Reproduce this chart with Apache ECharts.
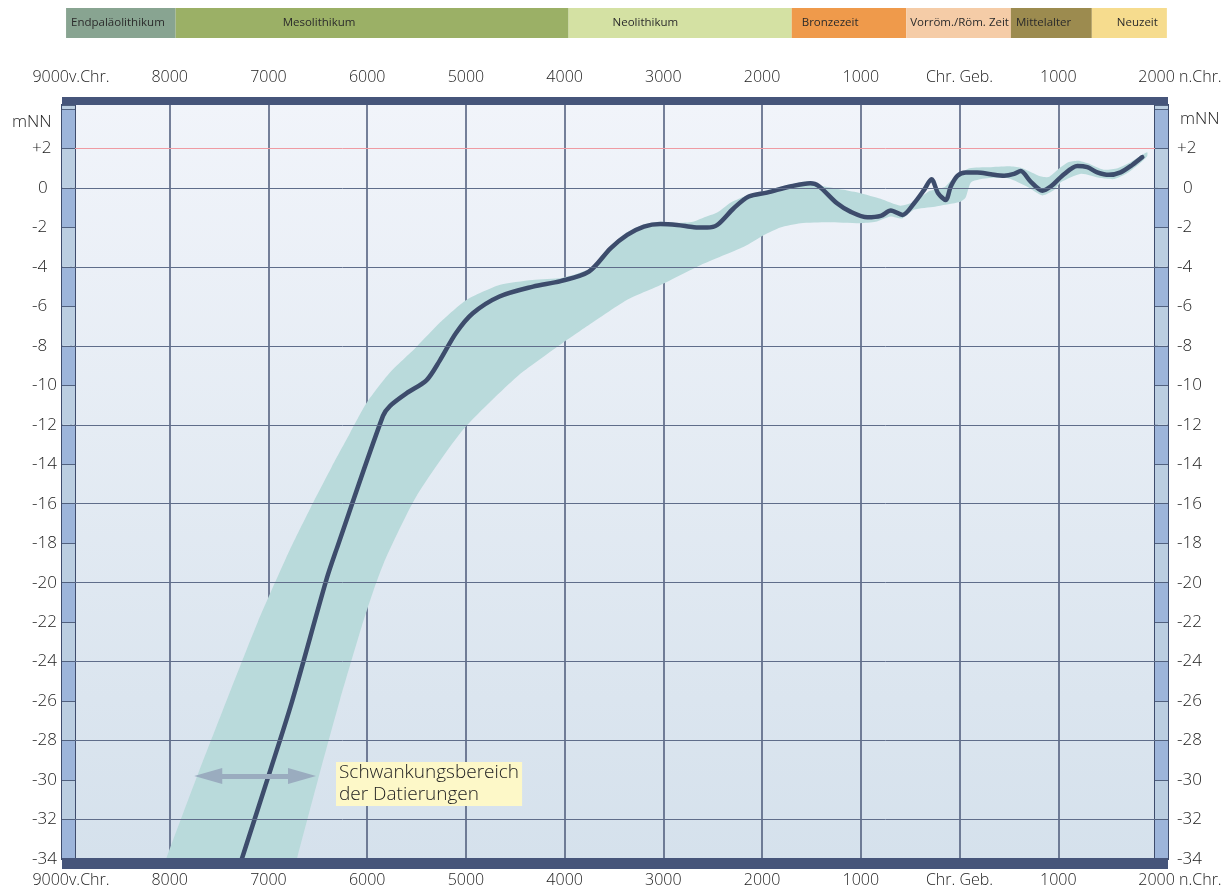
<!DOCTYPE html>
<html>
<head>
<meta charset="utf-8">
<title>Meeresspiegelanstieg</title>
<script src="https://cdn.jsdelivr.net/npm/echarts@6/dist/echarts.min.js"></script>
<style>
  html, body { margin: 0; padding: 0; background: #fff; }
  #chart { width: 1230px; height: 890px; }
</style>
</head>
<body>
<div id="chart"></div>
<script>
// Jahre: negativ = v.Chr., positiv = n.Chr.; Höhen in mNN
const curveYears = [-7270, -7000, -6760, -6410, -6310, -5840, -5770, -5600, -5400, -5265, -5100, -4930, -4660, -4320, -4040, -3754, -3535, -3366, -3197, -3029, -2860, -2691, -2556, -2455, -2287, -2135, -1950, -1714, -1511, -1427, -1241, -1106, -933, -798, -696, -578, -460, -359, -285, -217, -140, -89, -22, 63, 181, 316, 451, 552, 619, 720, 839, 923, 1058, 1193, 1294, 1395, 1513, 1631, 1749, 1851]
const curveLevels = [-34, -29.8, -26, -19.8, -18.3, -11.55, -11.05, -10.4, -9.75, -8.75, -7.35, -6.35, -5.5, -5.0, -4.72, -4.24, -3.06, -2.38, -1.96, -1.83, -1.88, -1.99, -2.01, -1.88, -1.03, -0.44, -0.24, 0.07, 0.24, 0.10, -0.78, -1.2, -1.49, -1.42, -1.15, -1.37, -0.78, -0.10, 0.44, -0.27, -0.61, 0.07, 0.61, 0.78, 0.78, 0.69, 0.62, 0.71, 0.86, 0.32, -0.14, 0.07, 0.69, 1.11, 1.05, 0.79, 0.66, 0.79, 1.16, 1.56]

// Schwankungsbereich: Ober- und Unterkante (Werte unter -34 liegen unter dem Rahmen)
const bandTopYears = [-8200, -8051, -7737, -7423, -7109, -6786, -6573, -6361, -6179, -6007, -5774, -5501, -5258, -4995, -4661, -4327, -4020, -3750, -3540, -3370, -3200, -3030, -2860, -2700, -2590, -2455, -2320, -2135, -1950, -1714, -1511, -1430, -1174, -1005, -800, -600, -460, -300, -150, -50, 100, 300, 500, 620, 700, 800, 900, 1000, 1100, 1200, 1300, 1460, 1600, 1740, 1900]
const bandTopLevels = [-36.4, -34.2, -30.0, -25.96, -22.0, -18.36, -16.2, -14.15, -12.47, -10.9, -9.38, -8.06, -6.8, -5.68, -4.92, -4.67, -4.55, -4.1, -2.95, -2.25, -1.85, -1.72, -1.78, -1.72, -1.5, -1.25, -0.75, -0.35, -0.12, 0.18, 0.35, 0.15, -0.1, -0.27, -0.55, -0.9, -0.7, -0.15, 0.05, 0.55, 1.0, 1.05, 1.1, 1.02, 0.85, 0.62, 0.55, 0.95, 1.3, 1.38, 1.25, 0.92, 1.0, 1.33, 1.8]
const bandLowYears = [-6831, -6722, -6499, -6277, -6054, -5936, -5815, -5507, -5032, -4486, -4021, -3800, -3370, -3030, -2620, -2185, -1980, -1815, -1610, -1340, -1005, -850, -700, -580, -460, -250, 0, 60, 120, 300, 500, 690, 840, 960, 1030, 1230, 1430, 1570, 1700, 1840, 1900]
const bandLowLevels = [-36.4, -34.2, -30.0, -25.96, -22.2, -20.4, -18.8, -15.67, -12.27, -9.58, -7.86, -7.1, -5.68, -4.92, -3.9, -2.98, -2.38, -2.0, -1.79, -1.74, -1.79, -1.72, -1.45, -1.55, -1.1, -0.95, -0.72, -0.5, 0.3, 0.5, 0.48, 0.05, -0.38, -0.1, 0.3, 0.72, 0.5, 0.45, 0.75, 1.3, 1.6]

// Kulturepochen
const periodNames = ['Endpaläolithikum', 'Mesolithikum', 'Neolithikum', 'Bronzezeit', 'Vorröm./Röm. Zeit', 'Mittelalter', 'Neuzeit']
const periodStart = [-9050, -7940, -3960, -1700, -540, 520, 1340]
const periodEnd = [-7940, -3960, -1700, -540, 520, 1340, 2100]

const gridLevels = [0, -4, -8, -12, -16, -20, -24, -28, -32]
const refLevels = [2]
const arrowYears = [-7610, -6660]
const arrowLevel = -29.8

// Stil
const FONT = '"Open Sans", sans-serif'
const periodColors = ['#88a491', '#9bb066', '#d4e1a3', '#ef9a4b', '#f5cca7', '#9c8b4f', '#f6dc8e']
const periodTextInset = [5, 107, 44, 10, 4, 5, 25]
const sideBarColors = ['#9db5da', '#bbcee1']

const bandPoly = bandTopYears.map((y, i) => [y, bandTopLevels[i]])
  .concat(bandLowYears.map((y, i) => [y, bandLowLevels[i]]).reverse())

function yearLabel (v) {
  if (v === -9000) return '9000v.Chr.'
  if (v === 2000) return '{pad|}2000 n.Chr.'
  if (v === 0) return 'Chr. Geb.'
  return String(Math.abs(v))
}

function levelLabel (v) {
  if (v > 3) return ''
  if (v === 2) return '+2'
  if (v === 0) return '{z|0}'
  return String(v)
}

const xLabel = {
  fontSize: 16,
  fontWeight: 300,
  color: '#222',
  formatter: yearLabel,
  rich: { pad: { width: 46 } }
}
const yLabel = {
  fontSize: 17,
  fontWeight: 300,
  color: '#222',
  align: 'left',
  formatter: levelLabel,
  rich: { z: { fontSize: 17, fontWeight: 300, color: '#222', padding: [0, 0, 0, 6] } }
}

const chart = echarts.init(document.getElementById('chart'))

const option = {
  animation: false,
  textStyle: { fontFamily: FONT },
  grid: [
    {
      left: 71, right: 73, top: 105, bottom: 31,
      show: true,
      borderWidth: 0,
      backgroundColor: {
        type: 'linear', x: 0, y: 0, x2: 0, y2: 1,
        colorStops: [
          { offset: 0, color: '#f1f4fa' },
          { offset: 1, color: '#d5e1ec' }
        ]
      }
    },
    { left: 62, width: 13, top: 105, bottom: 31, show: true, borderColor: '#3e4c6c', borderWidth: 2 },
    { left: 1155, width: 13, top: 105, bottom: 31, show: true, borderColor: '#3e4c6c', borderWidth: 2 },
    { left: 71, right: 73, top: 8, height: 30 }
  ],
  xAxis: [
    {
      gridIndex: 0, type: 'value', position: 'bottom',
      min: -9000, max: 2000, interval: 1000,
      axisLine: { show: false }, axisTick: { show: false },
      axisLabel: Object.assign({ margin: 13, showMinLabel: true, showMaxLabel: true }, xLabel),
      splitLine: { show: true, lineStyle: { color: '#4b5979', width: 1.5 } }
    },
    {
      gridIndex: 0, type: 'value', position: 'top',
      min: -9000, max: 2000, interval: 1000,
      axisLine: { show: false }, axisTick: { show: false },
      axisLabel: Object.assign({ margin: 20, showMinLabel: true, showMaxLabel: true }, xLabel),
      splitLine: { show: false }
    },
    { gridIndex: 1, type: 'value', min: 0, max: 1, show: false },
    { gridIndex: 2, type: 'value', min: 0, max: 1, show: false },
    { gridIndex: 3, type: 'value', min: -9000, max: 2000, show: false }
  ],
  yAxis: [
    {
      gridIndex: 0, type: 'value', position: 'left',
      min: -34, max: 4.2, interval: 2,
      axisLine: { show: false }, axisTick: { show: false }, splitLine: { show: false },
      axisLabel: Object.assign({ margin: 39 }, yLabel)
    },
    {
      gridIndex: 0, type: 'value', position: 'right',
      min: -34, max: 4.2, interval: 2,
      axisLine: { show: false }, axisTick: { show: false }, splitLine: { show: false },
      axisLabel: Object.assign({ margin: 20 }, yLabel)
    },
    {
      gridIndex: 1, type: 'value', min: -34, max: 4.2, interval: 2, z: 6,
      axisLine: { show: false }, axisTick: { show: false }, axisLabel: { show: false },
      splitLine: { show: true, lineStyle: { color: '#51617f', width: 1 } },
      splitArea: { show: true, areaStyle: { color: sideBarColors } }
    },
    {
      gridIndex: 2, type: 'value', min: -34, max: 4.2, interval: 2, z: 6,
      axisLine: { show: false }, axisTick: { show: false }, axisLabel: { show: false },
      splitLine: { show: true, lineStyle: { color: '#51617f', width: 1 } },
      splitArea: { show: true, areaStyle: { color: sideBarColors } }
    },
    { gridIndex: 3, type: 'value', min: 0, max: 1, show: false }
  ],
  graphic: [
    { type: 'rect', left: 62, top: 97, z: 100, shape: { width: 1106, height: 8 }, style: { fill: '#46557a' } },
    { type: 'rect', left: 62, top: 858, z: 100, shape: { width: 1106, height: 11 }, style: { fill: '#46557a' } },
    { type: 'text', left: 12, top: 114, z: 100, style: { text: 'mNN', fontSize: 17, fontWeight: 300, fontFamily: FONT, fill: '#222' } },
    { type: 'text', left: 1180, top: 111, z: 100, style: { text: 'mNN', fontSize: 17, fontWeight: 300, fontFamily: FONT, fill: '#222' } },
    {
      type: 'text', left: 336, top: 762, z: 100,
      style: {
        text: 'Schwankungsbereich\nder Datierungen',
        fontSize: 19, fontWeight: 300, lineHeight: 22, fontFamily: FONT, fill: '#222',
        backgroundColor: '#fdf8c8', padding: [0, 3, 0, 3]
      }
    }
  ],
  series: [
    {
      // Gitterlinien der Höhen
      type: 'line', xAxisIndex: 0, yAxisIndex: 0, data: [], z: 1, silent: true,
      markLine: {
        silent: true, symbol: ['none', 'none'], label: { show: false },
        lineStyle: { type: 'solid' },
        data: gridLevels.map(v => ({ yAxis: v, lineStyle: { color: '#5f6d8a', width: 1, type: 'solid' } }))
          .concat(refLevels.map(v => ({ yAxis: v, lineStyle: { color: '#ef9ba3', width: 1, type: 'solid' } })))
      }
    },
    {
      type: 'custom', xAxisIndex: 0, yAxisIndex: 0, z: 2, silent: true, clip: true,
      data: bandPoly,
      encode: { x: 0, y: 1 },
      renderItem (params, api) {
        if (params.dataIndex !== 0) return null
        return {
          type: 'polygon',
          shape: { points: bandPoly.map(p => api.coord(p)), smooth: 0.2 },
          style: { fill: '#b9dadb' }
        }
      }
    },
    {
      type: 'line', xAxisIndex: 0, yAxisIndex: 0, z: 4,
      data: curveYears.map((y, i) => [y, curveLevels[i]]),
      showSymbol: false, smooth: 0.3, clip: true,
      lineStyle: { color: '#3d4c6c', width: 4.5, cap: 'round', join: 'round' },
      markLine: {
        silent: true,
        symbol: ['triangle', 'triangle'],
        symbolSize: [16, 28],
        label: { show: false },
        lineStyle: { color: '#9aacbf', width: 5, type: 'solid' },
        data: [[{ coord: [arrowYears[0], arrowLevel] }, { coord: [arrowYears[1], arrowLevel] }]]
      }
    },
    {
      type: 'custom', xAxisIndex: 4, yAxisIndex: 4, clip: false, silent: true,
      data: periodNames.map((n, i) => [periodStart[i], periodEnd[i]]),
      renderItem (params, api) {
        const i = params.dataIndex
        const a = api.coord([api.value(0), 0])
        const b = api.coord([api.value(1), 1])
        return {
          type: 'group',
          children: [
            {
              type: 'rect',
              shape: { x: a[0], y: b[1], width: b[0] - a[0], height: a[1] - b[1] },
              style: { fill: periodColors[i] }
            },
            {
              type: 'text',
              x: a[0] + periodTextInset[i],
              y: (a[1] + b[1]) / 2,
              style: {
                text: periodNames[i], fill: '#2b2b2b', fontSize: 11.5, fontFamily: FONT,
                align: 'left', verticalAlign: 'middle'
              }
            }
          ]
        }
      }
    }
  ]
}

chart.setOption(option)
</script>
</body>
</html>
